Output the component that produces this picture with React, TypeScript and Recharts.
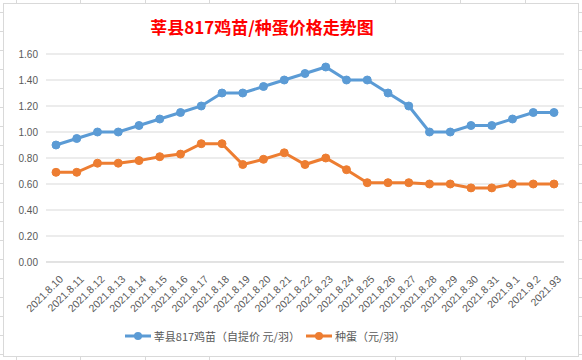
import { CartesianGrid, Legend, Line, LineChart, XAxis, YAxis } from "recharts";

const dates = [
  "2021.8.10", "2021.8.11", "2021.8.12", "2021.8.13", "2021.8.14",
  "2021.8.15", "2021.8.16", "2021.8.17", "2021.8.18", "2021.8.19",
  "2021.8.20", "2021.8.21", "2021.8.22", "2021.8.23", "2021.8.24",
  "2021.8.25", "2021.8.26", "2021.8.27", "2021.8.28", "2021.8.29",
  "2021.8.30", "2021.8.31", "2021.9.1", "2021.9.2", "2021.93",
];

const chickPrice = [
  0.9, 0.95, 1.0, 1.0, 1.05, 1.1, 1.15, 1.2, 1.3, 1.3, 1.35, 1.4, 1.45,
  1.5, 1.4, 1.4, 1.3, 1.2, 1.0, 1.0, 1.05, 1.05, 1.1, 1.15, 1.15,
];

const eggPrice = [
  0.69, 0.69, 0.76, 0.76, 0.78, 0.81, 0.83, 0.91, 0.91, 0.75, 0.79, 0.84, 0.75,
  0.8, 0.71, 0.61, 0.61, 0.61, 0.6, 0.6, 0.57, 0.57, 0.6, 0.6, 0.6,
];

const yTicks = [0, 0.2, 0.4, 0.6, 0.8, 1.0, 1.2, 1.4, 1.6];

const TITLE = "莘县817鸡苗/种蛋价格走势图";
const CHICK_NAME = "莘县817鸡苗（自提价 元/羽）";
const EGG_NAME = "种蛋（元/羽）";

const BLUE = "#5b9bd5";
const ORANGE = "#ed7d31";
const TEXT = "#595959";
const GRID = "#d9d9d9";

const data = dates.map((date, i) => ({
  date,
  chick: chickPrice[i],
  egg: eggPrice[i],
}));

// excel cell lines around the chart box
const colLines = [16, 80, 145, 209, 395, 460, 525];
const rowLines = [12, 31, 50, 69, 88, 107, 126, 145, 164, 183, 202, 221, 240, 259, 278, 297, 316, 335, 354];

function DateTick(props: any) {
  const { x, y, payload } = props;
  return (
    <text
      x={x + 5}
      y={y + 7}
      transform={`rotate(-45, ${x + 5}, ${y + 7})`}
      textAnchor="end"
      dominantBaseline="central"
      fontSize={10.5}
      fontFamily="'Liberation Sans', Arial, sans-serif"
      fill={TEXT}
    >
      {payload.value}
    </text>
  );
}

function LegendMark({ color }: { color: string }) {
  return (
    <svg width={26} height={10} style={{ marginRight: 3 }}>
      <line x1={0} y1={5} x2={26} y2={5} stroke={color} strokeWidth={3} />
      <circle cx={13} cy={5} r={4} fill={color} />
    </svg>
  );
}

function ChartLegend() {
  const item = { display: "flex", alignItems: "center", marginRight: 6 };
  return (
    <div
      style={{
        display: "flex",
        justifyContent: "center",
        paddingTop: 6,
        fontSize: 11,
        fontFamily: "'Noto Sans CJK SC', sans-serif",
        color: TEXT,
      }}
    >
      <div style={item}>
        <LegendMark color={BLUE} />
        {CHICK_NAME}
      </div>
      <div style={item}>
        <LegendMark color={ORANGE} />
        {EGG_NAME}
      </div>
    </div>
  );
}

export default function App() {
  return (
    <div style={{ position: "absolute", left: 0, top: 0, width: 582, height: 360, background: "#fff", overflow: "hidden" }}>
      {colLines.map((x) => (
        <div key={"c" + x} style={{ position: "absolute", left: x, top: 0, width: 1, height: 360, background: GRID }} />
      ))}
      {rowLines.map((y) => (
        <div key={"r" + y} style={{ position: "absolute", left: 0, top: y, width: 582, height: 1, background: GRID }} />
      ))}
      <div
        style={{
          position: "absolute",
          left: 3,
          top: 3,
          width: 576,
          height: 354,
          background: "#fff",
          boxSizing: "border-box",
          border: `1px solid ${GRID}`,
        }}
      >
        <div
          style={{
            position: "absolute",
            left: 0,
            width: 516,
            top: 13,
            textAlign: "center",
            color: "#ff0000",
            fontWeight: "bold",
            fontSize: 17,
            fontFamily: "'Noto Sans CJK SC', sans-serif",
            lineHeight: "20px",
          }}
        >
          {TITLE}
        </div>
        <LineChart width={574} height={352} data={data} margin={{ top: 50, right: 14, bottom: 0, left: 0 }}>
          <CartesianGrid vertical={false} stroke={GRID} />
          <XAxis
            dataKey="date"
            interval={0}
            height={60}
            padding={{ left: 10, right: 10 }}
            tick={<DateTick />}
            tickLine={false}
            axisLine={{ stroke: GRID }}
          />
          <YAxis
            domain={[0, 1.6]}
            ticks={yTicks}
            width={42}
            tickFormatter={(v: number) => v.toFixed(2)}
            tick={{ fill: TEXT, fontSize: 10, fontFamily: "'Liberation Sans', Arial, sans-serif" }}
            axisLine={false}
            tickLine={false}
          />
          <Legend
            verticalAlign="bottom"
            content={<ChartLegend />}
            wrapperStyle={{ left: 0, width: 528, height: 34 }}
          />
          <Line
            dataKey="chick"
            name={CHICK_NAME}
            stroke={BLUE}
            strokeWidth={3}
            dot={{ r: 4, fill: BLUE, stroke: BLUE, strokeWidth: 1 }}
            activeDot={false}
            isAnimationActive={false}
          />
          <Line
            dataKey="egg"
            name={EGG_NAME}
            stroke={ORANGE}
            strokeWidth={3}
            dot={{ r: 4, fill: ORANGE, stroke: ORANGE, strokeWidth: 1 }}
            activeDot={false}
            isAnimationActive={false}
          />
        </LineChart>
      </div>
    </div>
  );
}
